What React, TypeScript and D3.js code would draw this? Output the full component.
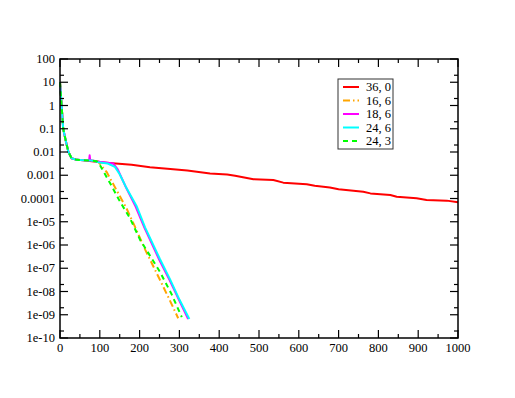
import React from "react";
import * as d3 from "d3";

const xTicks = [0, 100, 200, 300, 400, 500, 600, 700, 800, 900, 1000];
const yTickLabels = ["100", "10", "1", "0.1", "0.01", "0.001", "0.0001", "1e-05", "1e-06", "1e-07", "1e-08", "1e-09", "1e-10"];
const yTickValues = [1e2, 1e1, 1, 1e-1, 1e-2, 1e-3, 1e-4, 1e-5, 1e-6, 1e-7, 1e-8, 1e-9, 1e-10];

const seriesNames = ["36, 0", "16, 6", "18, 6", "24, 6", "24, 3"];
const seriesColors = ["#ff0000", "#ffa500", "#ff00ff", "#00ffff", "#00ff00"];
const seriesDash = [null, "7,3,1.5,3", null, null, "5,4"];

const redX = [0, 2, 4, 8, 15, 21, 29, 42, 60, 80, 100, 140, 180, 226, 270, 320, 377, 420, 440, 486, 536, 561, 620, 640, 678, 700, 762, 780, 830, 846, 896, 921, 972, 1000];
const redY = [10, 3.2, 1, 0.1, 0.028, 0.0102, 0.0054, 0.0046, 0.0044, 0.0040, 0.0036, 0.0032, 0.0028, 0.0022, 0.0019, 0.0016, 0.0012, 0.00107, 0.00095, 0.00068, 0.00063, 0.00048, 0.00041, 0.00035, 0.00030, 0.00025, 0.000195, 0.000166, 0.000141, 0.00012, 0.000102, 0.000087, 0.000081, 0.000069];

const orangeX = [0, 2, 4, 8, 15, 21, 29, 42, 60, 80, 95, 117, 142, 167, 188, 214, 251, 275, 297];
const orangeY = [10, 3.2, 1, 0.1, 0.028, 0.0102, 0.0054, 0.0046, 0.0044, 0.0043, 0.0040, 0.0014, 0.00023, 3.8e-5, 6.3e-6, 6.3e-7, 3.2e-8, 4.5e-9, 7.1e-10];

const magentaX = [0, 2, 4, 8, 15, 21, 29, 42, 60, 73, 74.5, 76, 100, 134, 145, 165, 190, 212, 250, 275, 300, 322];
const magentaY = [10, 3.2, 1, 0.1, 0.028, 0.0102, 0.0054, 0.0046, 0.0044, 0.0042, 0.0072, 0.0044, 0.0038, 0.0032, 0.0018, 0.00032, 4.5e-5, 5.6e-6, 2.2e-7, 3.2e-8, 4.0e-9, 6.6e-10];

const cyanX = [0, 2, 4, 8, 15, 21, 29, 42, 60, 80, 100, 120, 138, 150, 167, 193, 214, 251, 276, 300, 325];
const cyanY = [10, 3.2, 1, 0.1, 0.028, 0.0102, 0.0054, 0.0046, 0.0044, 0.0043, 0.0035, 0.0032, 0.0023, 0.0011, 0.00028, 4.5e-5, 5.6e-6, 2.5e-7, 3.5e-8, 4.5e-9, 6.6e-10];

const greenX = [0, 2, 4, 8, 15, 21, 29, 42, 60, 80, 92, 100, 126, 151, 176, 201, 251, 280, 306];
const greenY = [10, 3.2, 1, 0.1, 0.028, 0.0102, 0.0054, 0.0046, 0.0044, 0.0043, 0.0040, 0.0028, 0.00045, 7.2e-5, 1.4e-5, 1.7e-6, 7.1e-8, 7.9e-9, 7.9e-10];

const allX = [redX, orangeX, magentaX, cyanX, greenX];
const allY = [redY, orangeY, magentaY, cyanY, greenY];

const L = 60, R = 458, T = 59, B = 338;

export default function App() {
  const x = d3.scaleLinear().domain([0, 1000]).range([L, R]);
  const y = d3.scaleLog().domain([1e-10, 100]).range([B, T]);
  const line = d3
    .line<[number, number]>()
    .x((d) => x(d[0]))
    .y((d) => y(d[1]));

  const xMinor = d3.range(50, 1000, 100);
  const yMinor = yTickValues.slice(1).map((v) => v * 2);

  const font = "Liberation Serif, DejaVu Serif, serif";
  const legendY = [87, 100.5, 114, 127.5, 141];
  const textStyle = { fontFamily: font, fontSize: "12.5px" };

  return (
    <svg width={515} height={398} style={{ position: "absolute", left: 0, top: 0 }}>
      <rect x={0} y={0} width={515} height={398} fill="#fff" />
      <g>
        {allX.map((xs, i) => (
          <path
            key={i}
            d={line(xs.map((v, j) => [v, allY[i][j]]) as [number, number][]) || ""}
            fill="none"
            stroke={seriesColors[i]}
            strokeWidth={2}
            strokeDasharray={seriesDash[i] || undefined}
            strokeLinejoin="round"
          />
        ))}
      </g>
      <rect x={L} y={T} width={R - L} height={B - T} fill="none" stroke="#000" strokeWidth={1.5} />
      {xTicks.map((t) => (
        <g key={"xt" + t}>
          <line x1={x(t)} x2={x(t)} y1={B} y2={B - 8} stroke="#000" strokeWidth={1.2} />
          <line x1={x(t)} x2={x(t)} y1={T} y2={T + 8} stroke="#000" strokeWidth={1.2} />
          <text x={x(t)} y={352} textAnchor="middle" style={textStyle} fill="#000">
            {t}
          </text>
        </g>
      ))}
      {xMinor.map((t) => (
        <g key={"xm" + t}>
          <line x1={x(t)} x2={x(t)} y1={B} y2={B - 4} stroke="#000" strokeWidth={1.2} />
          <line x1={x(t)} x2={x(t)} y1={T} y2={T + 4} stroke="#000" strokeWidth={1.2} />
        </g>
      ))}
      {yTickValues.map((v, i) => (
        <g key={"yt" + i}>
          <line x1={L} x2={L + 8} y1={y(v)} y2={y(v)} stroke="#000" strokeWidth={1.2} />
          <line x1={R} x2={R - 8} y1={y(v)} y2={y(v)} stroke="#000" strokeWidth={1.2} />
          <text x={55} y={y(v) + 4} textAnchor="end" style={textStyle} fill="#000">
            {yTickLabels[i]}
          </text>
        </g>
      ))}
      {yMinor.map((v, i) => (
        <g key={"ym" + i}>
          <line x1={L} x2={L + 4} y1={y(v)} y2={y(v)} stroke="#000" strokeWidth={1.2} />
          <line x1={R} x2={R - 4} y1={y(v)} y2={y(v)} stroke="#000" strokeWidth={1.2} />
        </g>
      ))}
      <rect x={338} y={79} width={55} height={70} fill="#fff" stroke="#333" strokeWidth={1} />
      {seriesNames.map((n, i) => (
        <g key={"lg" + i}>
          <line
            x1={343}
            x2={359}
            y1={legendY[i]}
            y2={legendY[i]}
            stroke={seriesColors[i]}
            strokeWidth={2}
            strokeDasharray={seriesDash[i] || undefined}
          />
          <text x={366} y={legendY[i] + 4} style={textStyle} fill="#000">
            {n}
          </text>
        </g>
      ))}
    </svg>
  );
}
